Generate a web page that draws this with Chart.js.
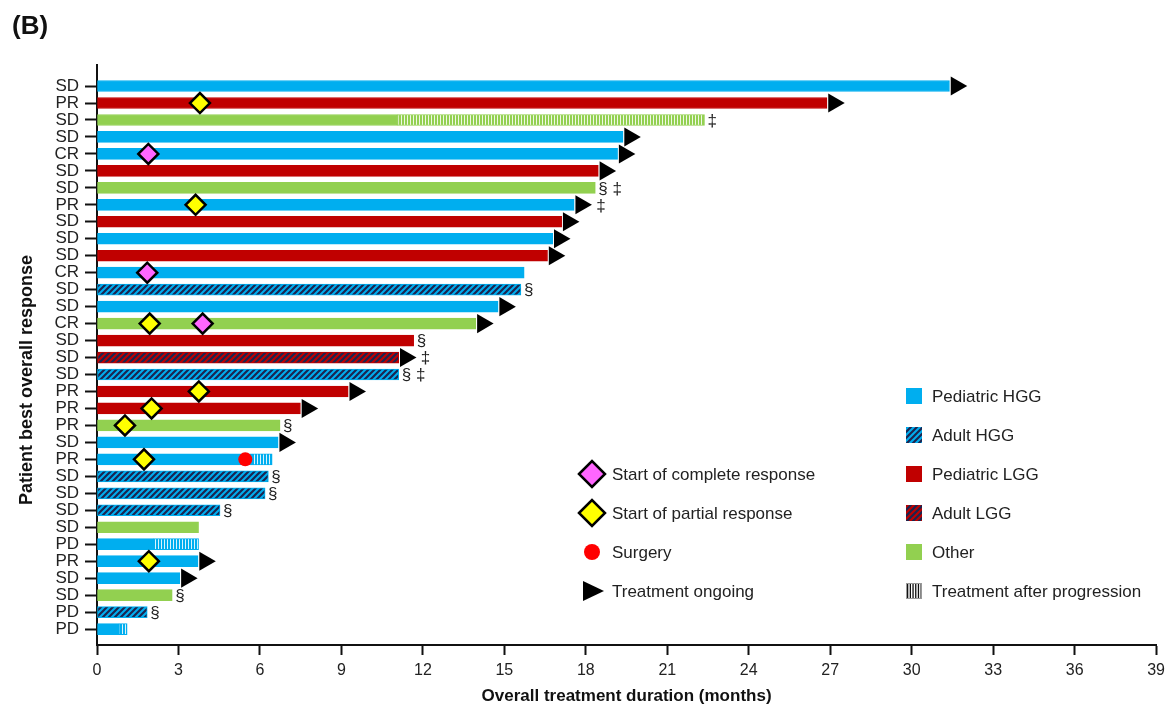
<!DOCTYPE html>
<html>
<head>
<meta charset="utf-8">
<script src="https://cdn.jsdelivr.net/npm/chart.js@4.4.1/dist/chart.umd.min.js"></script>
<style>
  html, body { margin: 0; padding: 0; background: #fff; }
  #wrap { width: 1171px; height: 709px; position: relative; }
</style>
</head>
<body>
<div id="wrap"><canvas id="swimmer"></canvas></div>
<script>
// one entry per patient, top to bottom
const responses = ['SD','PR','SD','SD','CR','SD','SD','PR','SD','SD','SD','CR','SD','SD','CR','SD','SD',
                   'SD','PR','PR','PR','SD','PR','SD','SD','SD','SD','PD','PR','SD','SD','PD','PD'];
const groups = ['pHGG','pLGG','other','pHGG','pHGG','pLGG','other','pHGG','pLGG','pHGG','pLGG','pHGG','aHGG',
                'pHGG','other','pLGG','aLGG','aHGG','pLGG','pLGG','other','pHGG','pHGG','aHGG','aHGG','aHGG',
                'other','pHGG','pHGG','pHGG','other','aHGG','pHGG'];
const durations = [31.39, 26.88, 22.37, 19.37, 19.17, 18.46, 18.35, 17.57, 17.11, 16.78, 16.59, 15.73, 15.61,
                   14.77, 13.95, 11.66, 11.11, 11.11, 9.25, 7.49, 6.74, 6.67, 6.45, 6.31, 6.19, 4.53,
                   3.74, 3.74, 3.72, 3.05, 2.77, 1.85, 1.11];
// month where treatment after progression starts (null = none)
const progressionFrom = [null, null, 11.07, null, null, null, null, null, null, null, null, null, null,
                         null, null, null, null, null, null, null, null, null, 5.71, null, null, null,
                         null, 2.07, null, null, null, null, 0.81];
const ongoing = [true, true, false, true, true, true, false, true, true, true, true, false, false,
                 true, true, false, true, false, true, true, false, true, false, false, false, false,
                 false, false, true, true, false, false, false];
const footnotes = ['', '', '‡', '', '', '', '§‡', '‡', '', '', '', '', '§', '', '', '§', '‡', '§‡', '', '',
                   '§', '', '', '§', '§', '§', '', '', '', '', '§', '§', ''];

const crRows = [4, 11, 14];
const crMonths = [1.89, 1.85, 3.89];
const prRows = [1, 7, 14, 18, 19, 20, 22, 28];
const prMonths = [3.79, 3.63, 1.94, 3.75, 2.01, 1.03, 1.73, 1.91];
const surgeryRows = [22];
const surgeryMonths = [5.46];

const xTicks = [0, 3, 6, 9, 12, 15, 18, 21, 24, 27, 30, 33, 36, 39];

const FONT = "'Liberation Sans', Arial, sans-serif";
const TEXT = '#222';
const baseColor = { pHGG: '#00AEEF', aHGG: '#00AEEF', pLGG: '#C00000', aLGG: '#C00000', other: '#92D050' };
const STRIPE = '#1B2550';
const arrowOffset = 0.25;

function diagPattern(base) {
  const c = document.createElement('canvas');
  c.width = 6; c.height = 6;
  const g = c.getContext('2d');
  g.fillStyle = base;
  g.fillRect(0, 0, 6, 6);
  g.strokeStyle = STRIPE;
  g.lineWidth = 2.2;
  g.beginPath();
  g.moveTo(-1, 7); g.lineTo(7, -1);
  g.moveTo(-2, 2); g.lineTo(2, -2);
  g.moveTo(4, 8); g.lineTo(8, 4);
  g.stroke();
  return g.createPattern(c, 'repeat');
}

function vstripePattern(base) {
  const c = document.createElement('canvas');
  c.width = 3; c.height = 3;
  const g = c.getContext('2d');
  g.fillStyle = base;
  g.fillRect(0, 0, 3, 3);
  g.fillStyle = 'rgba(255,255,255,0.85)';
  g.fillRect(2, 0, 1, 3);
  return g.createPattern(c, 'repeat');
}

function fillFor(group) {
  if (group === 'aHGG' || group === 'aLGG') return diagPattern(baseColor[group]);
  return baseColor[group];
}

const rows = responses.map((_, i) => i);

const mainBars = rows.map(i => ({ x: [0, progressionFrom[i] ?? durations[i]], y: i }));
const postBars = rows.filter(i => progressionFrom[i] !== null)
  .map(i => ({ x: [progressionFrom[i], durations[i]], y: i }));

const legendLeft = [
  { kind: 'diamond', color: '#FF66FF', label: 'Start of complete response' },
  { kind: 'diamond', color: '#FFFF00', label: 'Start of partial response' },
  { kind: 'circle', color: '#FF0000', label: 'Surgery' },
  { kind: 'arrow', color: '#000', label: 'Treatment ongoing' }
];
const legendRight = [
  { group: 'pHGG', label: 'Pediatric HGG' },
  { group: 'aHGG', label: 'Adult HGG' },
  { group: 'pLGG', label: 'Pediatric LGG' },
  { group: 'aLGG', label: 'Adult LGG' },
  { group: 'other', label: 'Other' },
  { group: 'post', label: 'Treatment after progression' }
];

const extras = {
  id: 'extras',
  afterDatasetsDraw(chart) {
    const ctx = chart.ctx;
    const xs = chart.scales.x, ys = chart.scales.y;
    ctx.save();
    // footnote symbols
    ctx.fillStyle = TEXT;
    ctx.font = '17px ' + FONT;
    ctx.textBaseline = 'middle';
    ctx.textAlign = 'left';
    rows.forEach(i => {
      if (!footnotes[i]) return;
      let x = xs.getPixelForValue(durations[i]) + (ongoing[i] ? 22 : 3);
      ctx.fillText(footnotes[i].split('').join(' '), x, ys.getPixelForValue(i) + 1);
    });

    // legend, left column
    const lx = 592, tx = 612, ly0 = 474, step = 39;
    legendLeft.forEach((it, k) => {
      const y = ly0 + k * step;
      ctx.beginPath();
      if (it.kind === 'diamond') {
        ctx.moveTo(lx - 13, y); ctx.lineTo(lx, y - 13); ctx.lineTo(lx + 13, y); ctx.lineTo(lx, y + 13);
        ctx.closePath();
        ctx.fillStyle = it.color; ctx.fill();
        ctx.lineWidth = 2.5; ctx.strokeStyle = '#000'; ctx.stroke();
      } else if (it.kind === 'circle') {
        ctx.arc(lx, y, 8, 0, Math.PI * 2);
        ctx.fillStyle = it.color; ctx.fill();
      } else {
        ctx.moveTo(lx - 9, y - 10); ctx.lineTo(lx + 12, y); ctx.lineTo(lx - 9, y + 10);
        ctx.closePath();
        ctx.fillStyle = it.color; ctx.fill();
      }
      ctx.fillStyle = TEXT;
      ctx.font = '17px ' + FONT;
      ctx.fillText(it.label, tx, y + 1);
    });

    // legend, right column
    const sx = 906, rtx = 932, ry0 = 396;
    legendRight.forEach((it, k) => {
      const y = ry0 + k * step;
      if (it.group === 'post') {
        ctx.fillStyle = '#fff';
        ctx.fillRect(sx, y - 8, 16, 16);
        ctx.fillStyle = '#111';
        for (let j = 0; j < 6; j++) ctx.fillRect(sx + 1 + j * 2.7, y - 8, 1.3, 16);
        ctx.strokeStyle = '#999'; ctx.lineWidth = 1;
        ctx.strokeRect(sx + 0.5, y - 7.5, 15, 15);
      } else {
        ctx.fillStyle = fillFor(it.group);
        ctx.fillRect(sx, y - 8, 16, 16);
      }
      ctx.fillStyle = TEXT;
      ctx.font = '17px ' + FONT;
      ctx.fillText(it.label, rtx, y + 1);
    });

    // panel letter
    ctx.font = 'bold 26px ' + FONT;
    ctx.fillStyle = '#111';
    ctx.fillText('(B)', 12, 27);

    // y title
    ctx.translate(27, 380);
    ctx.rotate(-Math.PI / 2);
    ctx.textAlign = 'center';
    ctx.font = 'bold 18px ' + FONT;
    ctx.fillText('Patient best overall response', 0, 0);
    ctx.restore();
  }
};

new Chart(document.getElementById('swimmer'), {
  type: 'bar',
  data: {
    datasets: [
      {
        label: 'Treatment',
        data: mainBars,
        backgroundColor: rows.map(i => fillFor(groups[i])),
        borderColor: rows.map(i => baseColor[groups[i]]),
        borderWidth: 1,
        borderSkipped: false,
        barThickness: 11,
        maxBarThickness: 11,
        grouped: false,
        order: 3
      },
      {
        label: 'Treatment after progression',
        data: postBars,
        backgroundColor: ctx => vstripePattern(baseColor[groups[ctx.raw.y]]),
        borderColor: ctx => baseColor[groups[ctx.raw.y]],
        borderWidth: 1,
        borderSkipped: false,
        barThickness: 11,
        maxBarThickness: 11,
        grouped: false,
        order: 3
      },
      {
        type: 'scatter',
        label: 'Treatment ongoing',
        data: rows.filter(i => ongoing[i]).map(i => ({ x: durations[i] + arrowOffset, y: i })),
        pointStyle: 'triangle',
        rotation: 90,
        pointRadius: 11,
        backgroundColor: '#000',
        borderWidth: 0,
        order: 2
      },
      {
        type: 'scatter',
        label: 'Surgery',
        data: surgeryRows.map((r, k) => ({ x: surgeryMonths[k], y: r })),
        pointStyle: 'circle',
        pointRadius: 7,
        backgroundColor: '#FF0000',
        borderWidth: 0,
        order: 1
      },
      {
        type: 'scatter',
        label: 'Start of complete response',
        data: crRows.map((r, k) => ({ x: crMonths[k], y: r })),
        pointStyle: 'rectRot',
        pointRadius: 10,
        backgroundColor: '#FF66FF',
        borderColor: '#000',
        borderWidth: 2.5,
        order: 0
      },
      {
        type: 'scatter',
        label: 'Start of partial response',
        data: prRows.map((r, k) => ({ x: prMonths[k], y: r })),
        pointStyle: 'rectRot',
        pointRadius: 10,
        backgroundColor: '#FFFF00',
        borderColor: '#000',
        borderWidth: 2.5,
        order: 0
      }
    ]
  },
  options: {
    indexAxis: 'y',
    responsive: true,
    maintainAspectRatio: false,
    animation: false,
    events: [],
    layout: { padding: { top: 65, right: 14, left: 0, bottom: 0 } },
    plugins: { legend: { display: false }, tooltip: { enabled: false } },
    scales: {
      x: {
        type: 'linear',
        min: 0,
        max: 39,
        offset: false,
        afterFit: s => { s.height = 64; },
        afterBuildTicks: s => { s.ticks = xTicks.map(v => ({ value: v })); },
        border: { display: true, color: '#111', width: 2 },
        grid: { offset: false, drawOnChartArea: false, drawTicks: true, tickLength: 10, tickColor: '#111', tickWidth: 2 },
        ticks: { color: TEXT, font: { family: FONT, size: 16 }, padding: 6, autoSkip: false, maxRotation: 0 },
        title: {
          display: true,
          text: 'Overall treatment duration (months)',
          color: '#111',
          font: { family: FONT, size: 17, weight: 'bold' },
          padding: { top: 0, bottom: 2 }
        }
      },
      y: {
        type: 'linear',
        reverse: true,
        offset: false,
        min: -1.24,
        max: 32.94,
        afterFit: s => { s.width = 97; },
        afterBuildTicks: s => { s.ticks = rows.map(i => ({ value: i })); },
        border: { display: true, color: '#111', width: 2 },
        grid: { offset: false, drawOnChartArea: false, drawTicks: true, tickLength: 12, tickColor: '#111', tickWidth: 2 },
        ticks: {
          color: TEXT,
          font: { family: FONT, size: 17 },
          padding: 6,
          autoSkip: false,
          callback: v => responses[v]
        }
      }
    }
  },
  plugins: [extras]
});
</script>
</body>
</html>
